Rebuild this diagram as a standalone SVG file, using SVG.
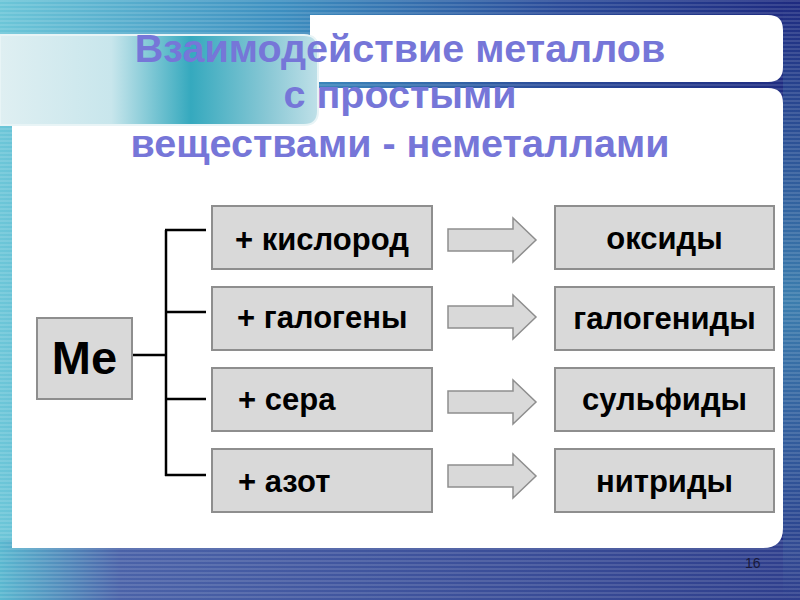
<svg xmlns="http://www.w3.org/2000/svg" width="800" height="600" viewBox="0 0 800 600">
<defs>
<linearGradient id="bg" x1="0" y1="0" x2="1" y2="0">
<stop offset="0" stop-color="#6cc6d8"/>
<stop offset="0.35" stop-color="#3d8fc0"/>
<stop offset="0.7" stop-color="#2a4a98"/>
<stop offset="1" stop-color="#1e2a80"/>
</linearGradient>
<linearGradient id="bottom" x1="0" y1="0" x2="1" y2="0">
<stop offset="0" stop-color="#5ab8d0"/>
<stop offset="0.15" stop-color="#4a62a8"/>
<stop offset="1" stop-color="#2e3e8c"/>
</linearGradient>
<linearGradient id="rightEdge" x1="0" y1="0" x2="0" y2="1">
<stop offset="0" stop-color="#1e2a80"/>
<stop offset="0.5" stop-color="#4fb4cc"/>
<stop offset="1" stop-color="#2e3e8c"/>
</linearGradient>
<linearGradient id="bar" x1="0" y1="0" x2="1" y2="0">
<stop offset="0" stop-color="#dfeff2"/>
<stop offset="0.35" stop-color="#c8e6ec"/>
<stop offset="0.6" stop-color="#35a9be"/>
<stop offset="0.85" stop-color="#8cc9d6"/>
<stop offset="1" stop-color="#bfe0e8"/>
</linearGradient>
<pattern id="stripes" width="4" height="4" patternUnits="userSpaceOnUse">
<rect width="4" height="2" fill="#ffffff" opacity="0.12"/>
</pattern>
<style>
.box{fill:#d9d9d9;stroke:#8e8e8e;stroke-width:2}
.t{font-family:"Liberation Sans",Arial,sans-serif;font-weight:bold;fill:#000}
.lt{font-size:31px}
.rt{font-size:31px;text-anchor:middle}
.title{font-family:"Liberation Sans",Arial,sans-serif;font-weight:bold;font-size:39.5px;fill:#7676d8;text-anchor:middle}
.conn{stroke:#000;stroke-width:2.5;fill:none}
.arrow{fill:#d9d9d9;stroke:#8e8e8e;stroke-width:1.5}
</style>
</defs>
<rect width="800" height="600" fill="url(#bg)"/>
<rect x="0" y="540" width="800" height="60" fill="url(#bottom)"/>
<rect x="783" y="0" width="17" height="600" fill="url(#rightEdge)" opacity="0.6"/>
<rect width="800" height="600" fill="url(#stripes)"/>
<path d="M310 15 H768 Q783 15 783 30 V67 Q783 82 768 82 H310 Z" fill="#ffffff"/>
<path d="M12 88 H768 Q783 88 783 103 V528 Q783 548 763 548 H12 Z" fill="#ffffff"/>
<path d="M0 35 H304 Q318 35 318 49 V111 Q318 125 304 125 H0 Z" fill="url(#bar)" stroke="#e8f4f6" stroke-width="2"/>
<g id="title">
<text class="title" x="400" y="62">Взаимодействие металлов</text>
<text class="title" x="400" y="108">с простыми</text>
<text class="title" x="400" y="157">веществами - неметаллами</text>
</g>
<g id="connectors">
<line class="conn" x1="132" y1="355" x2="166" y2="355"/>
<line class="conn" x1="166" y1="230" x2="166" y2="476"/>
<line class="conn" x1="165" y1="230" x2="206" y2="230"/>
<line class="conn" x1="165" y1="312" x2="206" y2="312"/>
<line class="conn" x1="165" y1="399" x2="206" y2="399"/>
<line class="conn" x1="165" y1="475" x2="206" y2="475"/>
<path class="arrow" d="M448 229 H513 V218 L536 240 L513 262 V251 H448 Z"/>
<path class="arrow" d="M448 306 H513 V295 L536 317 L513 339 V328 H448 Z"/>
<path class="arrow" d="M448 391 H513 V380 L536 402 L513 424 V413 H448 Z"/>
<path class="arrow" d="M448 465 H513 V454 L536 476 L513 498 V487 H448 Z"/>
</g>
<g id="me">
<rect class="box" x="37" y="318" width="95" height="81"/>
<text class="t" x="84.5" y="374" font-size="47" text-anchor="middle">Ме</text>
</g>
<g id="kislorod">
<rect class="box" x="212" y="206" width="220" height="63"/>
<text class="t lt" x="235" y="250">+ кислород</text>
</g>
<g id="galogeny">
<rect class="box" x="212" y="287" width="220" height="63"/>
<text class="t lt" x="237" y="328">+ галогены</text>
</g>
<g id="sera">
<rect class="box" x="212" y="368" width="220" height="63"/>
<text class="t lt" x="238" y="410">+ сера</text>
</g>
<g id="azot">
<rect class="box" x="212" y="449" width="220" height="63"/>
<text class="t lt" x="238" y="492">+ азот</text>
</g>
<g id="oksidy">
<rect class="box" x="555" y="206" width="219" height="63"/>
<text class="t rt" x="664.5" y="249">оксиды</text>
</g>
<g id="galogenidy">
<rect class="box" x="555" y="287" width="219" height="63"/>
<text class="t rt" x="664.5" y="329">галогениды</text>
</g>
<g id="sulfidy">
<rect class="box" x="555" y="368" width="219" height="63"/>
<text class="t rt" x="664.5" y="410">сульфиды</text>
</g>
<g id="nitridy">
<rect class="box" x="555" y="449" width="219" height="63"/>
<text class="t rt" x="664.5" y="492">нитриды</text>
</g>
<text x="745" y="568" font-family="Liberation Sans,Arial,sans-serif" font-size="14" fill="#1a1a3a">16</text>
</svg>
